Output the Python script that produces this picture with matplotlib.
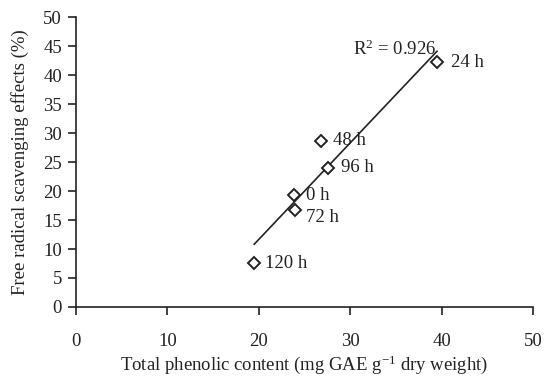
import numpy as np
import matplotlib
matplotlib.use("Agg")
import matplotlib.pyplot as plt

# data
labels = ["0 h", "24 h", "48 h", "72 h", "96 h", "120 h"]
phenolic = [23.8, 39.5, 26.8, 24.0, 27.6, 19.5]
scavenging = [19.3, 42.2, 28.7, 16.8, 24.0, 7.5]
label_offsets = [(9, 0), (10, 0), (9, 0), (8, -6), (9, 0), (8, 0)]
r2_text = "R$^2$ = 0.926"

plt.rcParams['font.family'] = ['Liberation Serif', 'DejaVu Serif']
plt.rcParams['mathtext.fontset'] = 'custom'
plt.rcParams['mathtext.rm'] = 'Liberation Serif'
plt.rcParams['mathtext.it'] = 'Liberation Serif:italic'

fs = 13.5
ink = '#222222'

fig = plt.figure(figsize=(5.45, 3.79), dpi=100)
ax = fig.add_axes([0.1394, 0.19, 0.8386, 0.765])

ax.plot(phenolic, scavenging, linestyle='none', marker='D', markersize=6.5,
        markerfacecolor='white', markeredgecolor=ink, markeredgewidth=1.4,
        zorder=3)

# linear trend line across the data range
slope, intercept = np.polyfit(phenolic, scavenging, 1)
xs = np.array([min(phenolic), max(phenolic)])
ax.plot(xs, slope * xs + intercept, color=ink, linewidth=1.2, zorder=2)

for lab, x, y, off in zip(labels, phenolic, scavenging, label_offsets):
    ax.annotate(lab, (x, y), xytext=off, textcoords='offset points',
                ha='left', va='center', fontsize=fs, color=ink)

ax.text(30.3, 44.4, r2_text, ha='left', va='center', fontsize=fs, color=ink)

ax.set_xlim(0, 50)
ax.set_ylim(0, 50)
ax.set_xticks(range(0, 51, 10))
ax.set_yticks(range(0, 51, 5))

for s in ['top', 'right']:
    ax.spines[s].set_visible(False)
for s in ['left', 'bottom']:
    ax.spines[s].set_color(ink)
    ax.spines[s].set_linewidth(1.2)

ax.tick_params(axis='x', direction='out', length=6, width=1.2, pad=13,
               labelsize=fs, colors=ink)
ax.tick_params(axis='y', direction='out', length=6, width=1.2, pad=4,
               labelsize=fs, colors=ink)

ax.set_xlabel(r"Total phenolic content (mg GAE g$^{-1}$ dry weight)", fontsize=fs,
              color=ink, labelpad=2)
ax.set_ylabel("Free radical scavenging effects (%)", fontsize=fs,
              color=ink, labelpad=10)

fig.savefig("out.png", dpi=100)
